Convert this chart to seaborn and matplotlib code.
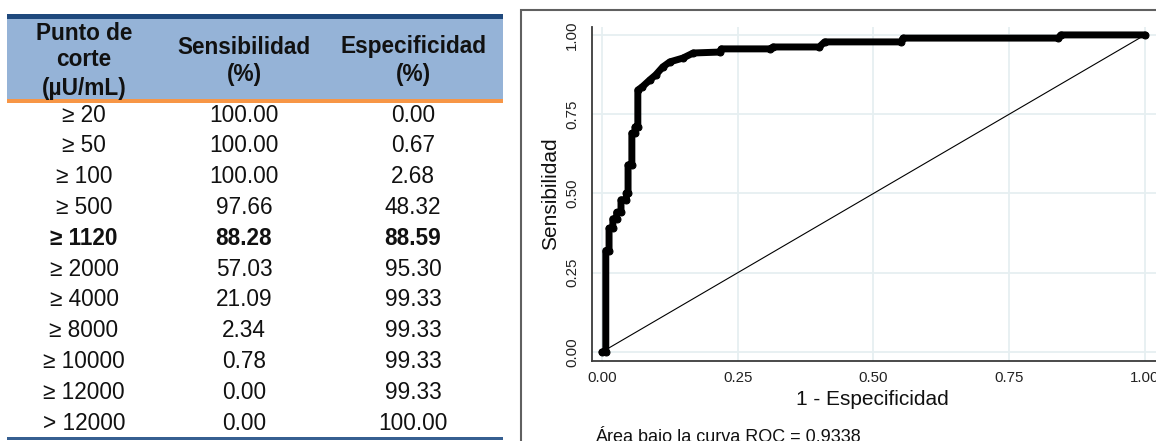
import matplotlib
matplotlib.use("Agg")
import matplotlib.pyplot as plt
import matplotlib.patches as mpatches
import seaborn as sns

# tabla de puntos de corte
cortes = ["≥ 20", "≥ 50", "≥ 100", "≥ 500", "≥ 1120", "≥ 2000", "≥ 4000",
          "≥ 8000", "≥ 10000", "≥ 12000", "> 12000"]
sensibilidad = ["100.00", "100.00", "100.00", "97.66", "88.28", "57.03", "21.09",
                "2.34", "0.78", "0.00", "0.00"]
especificidad = ["0.00", "0.67", "2.68", "48.32", "88.59", "95.30", "99.33",
                 "99.33", "99.33", "99.33", "100.00"]
fila_destacada = "≥ 1120"

# curva ROC (1 - especificidad, sensibilidad)
roc_fpr = [0.000, 0.007, 0.007, 0.013, 0.013, 0.020, 0.020, 0.027, 0.027, 0.035,
           0.035, 0.045, 0.045, 0.048, 0.048, 0.055, 0.055, 0.061, 0.061, 0.066,
           0.066, 0.074, 0.088, 0.099, 0.112, 0.125, 0.149, 0.168, 0.217, 0.220,
           0.310, 0.315, 0.400, 0.410, 0.550, 0.555, 0.840, 0.845, 1.000]
roc_tpr = [0.000, 0.000, 0.320, 0.320, 0.390, 0.390, 0.420, 0.420, 0.440, 0.440,
           0.480, 0.480, 0.500, 0.500, 0.590, 0.590, 0.690, 0.690, 0.710, 0.710,
           0.826, 0.836, 0.858, 0.874, 0.899, 0.915, 0.927, 0.943, 0.946, 0.956,
           0.956, 0.962, 0.962, 0.978, 0.978, 0.990, 0.990, 1.000, 1.000]
diag = [0, 1]
auc = 0.9338
ticks = [0, 0.25, 0.5, 0.75, 1.0]

sns.set_style("white")
plt.rcParams["font.family"] = ["Liberation Sans", "DejaVu Sans"]

W, H = 1156, 441
fig = plt.figure(figsize=(W / 100, H / 100), dpi=100)

# ---- tabla (coordenadas en pixeles) ----
tab = fig.add_axes([0, 0, 510 / W, 1])
tab.set_xlim(0, 510)
tab.set_ylim(H, 0)
tab.axis("off")
tab.add_patch(mpatches.Rectangle((7, 19), 496, 80, facecolor="#95b3d7", lw=0))
tab.add_patch(mpatches.Rectangle((7, 14), 496, 5, facecolor="#1f497d", lw=0))
tab.add_patch(mpatches.Rectangle((7, 99), 496, 4, facecolor="#f79646", lw=0))
tab.add_patch(mpatches.Rectangle((7, 437), 496, 2.5, facecolor="#365f91", lw=0))

cols = [84, 244, 413]
fs = 16.3
hdr = dict(ha="center", va="center", fontsize=fs, fontweight="bold", color="#111111")
for txt, yy in zip(["Punto de", "corte", "(µU/mL)"], [33, 60, 88]):
    tab.text(cols[0], yy, txt, **hdr)
for txt, yy in zip(["Sensibilidad", "(%)"], [47, 75]):
    tab.text(cols[1], yy, txt, **hdr)
for txt, yy in zip(["Especificidad", "(%)"], [47, 75]):
    tab.text(cols[2], yy, txt, **hdr)

for i, (c, s, e) in enumerate(zip(cortes, sensibilidad, especificidad)):
    yy = 115 + 30.8 * i
    peso = "bold" if c == fila_destacada else "normal"
    for x, txt in zip(cols, [c, s, e]):
        tab.text(x, yy, txt, ha="center", va="center", fontsize=fs,
                 fontweight=peso, color="#111111")

# ---- grafico ROC ----
x0, x1 = -0.0184, 1.0203
y0, y1 = -0.0284, 1.025
ax = fig.add_axes([592 / W, (H - 361) / H, (W - 592) / W, (361 - 27) / H])

sns.lineplot(x=diag, y=diag, ax=ax, color="black", lw=0.8)
sns.lineplot(x=roc_fpr, y=roc_tpr, ax=ax, sort=False, estimator=None,
             color="black", lw=5, marker="o", markersize=5,
             markeredgecolor="black")

ax.set_xlim(x0, x1)
ax.set_ylim(y0, y1)
ax.set_xticks(ticks)
ax.set_yticks(ticks)
ax.set_xticklabels([f"{t:.2f}" for t in ticks])
ax.set_yticklabels([f"{t:.2f}" for t in ticks], rotation=90, va="center")
ax.grid(True, color="#e6eff1", lw=1.3)
ax.set_axisbelow(True)
for side in ["top", "right"]:
    ax.spines[side].set_visible(False)
for side in ["left", "bottom"]:
    ax.spines[side].set_color("#3a3a3a")
    ax.spines[side].set_linewidth(1.3)
ax.tick_params(axis="both", direction="out", length=3.6, width=1,
               color="#3a3a3a", labelsize=10.8, labelcolor="#222222")
ax.tick_params(axis="y", pad=5.5)
ax.tick_params(axis="x", pad=3.5)

ax.set_xlabel("1 - Especificidad", fontsize=15, color="#111111")
ax.xaxis.set_label_coords(0.498, -0.114)
ax.xaxis.label.set_va("center")
ax.set_ylabel("Sensibilidad", fontsize=15, color="#111111")
ax.yaxis.set_label_coords(-0.073, 0.5)
ax.yaxis.label.set_va("center")

fig.text(595 / W, -1 / H, f"Área bajo la curva ROC = {auc:.4f}", fontsize=13,
         ha="left", va="baseline", color="#111111")

# marco exterior del grafico
fig.patches.append(mpatches.Rectangle((521 / W, -10 / H), (W + 10 - 521) / W,
                                      (H - 10 + 10) / H, transform=fig.transFigure,
                                      fill=False, edgecolor="#606060", lw=1.5))

fig.savefig("out.png", dpi=100)
